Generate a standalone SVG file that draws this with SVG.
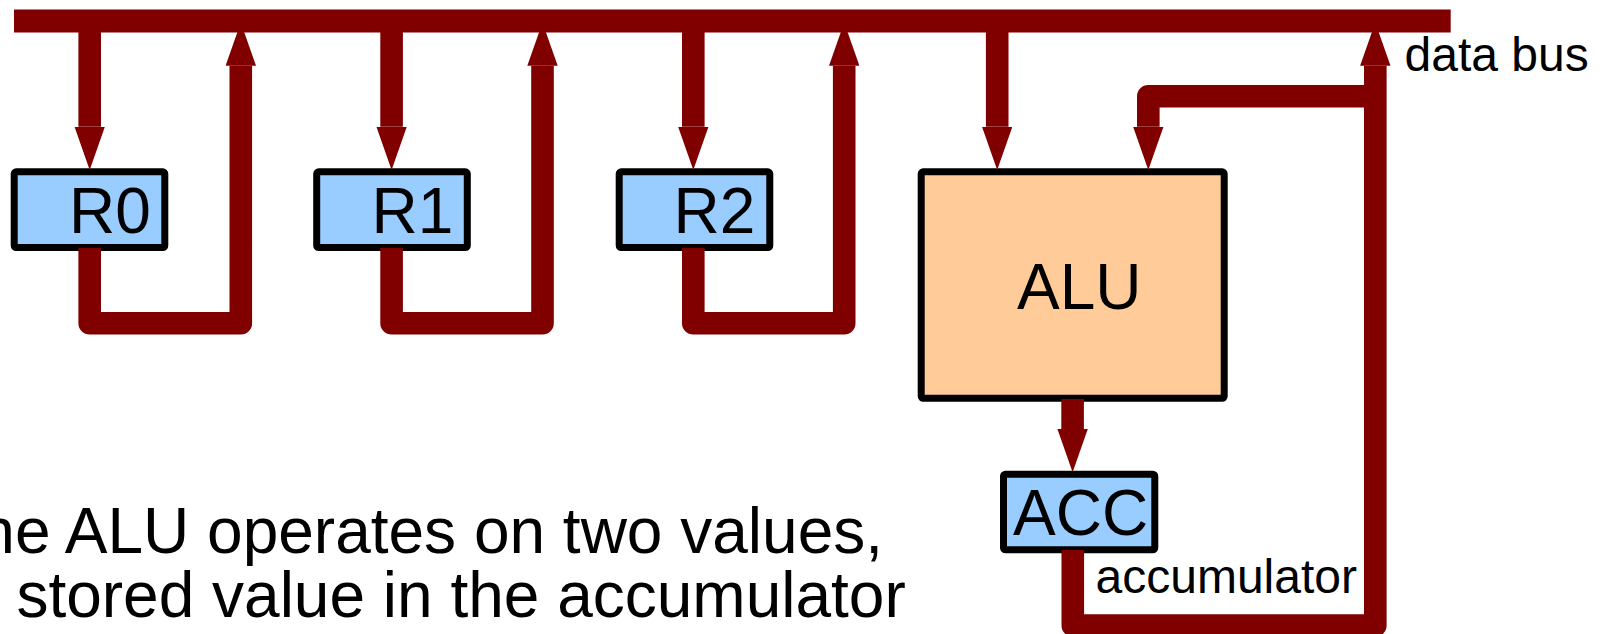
<svg xmlns="http://www.w3.org/2000/svg" width="1606" height="634" viewBox="0 0 1606 634">
<style>
.bus{fill:none;stroke:#800000;stroke-width:23;stroke-linecap:butt}
.wire{fill:none;stroke:#800000;stroke-width:22.6;stroke-linejoin:round;stroke-linecap:butt}
.reg{fill:#99ccff;stroke:#000;stroke-width:7}
.alu{fill:#ffcc99;stroke:#000;stroke-width:7}
.big{font-family:"Liberation Sans",Arial,sans-serif;font-size:64px;fill:#000}
.lbl{font-family:"Liberation Sans",Arial,sans-serif;font-size:48px;fill:#000}
</style>
<defs>
<marker id="ah" markerUnits="userSpaceOnUse" viewBox="0 -15.2 44 30.4" markerWidth="44" markerHeight="30.4" refX="0" refY="0" orient="auto">
<path d="M0,-15.2 L43.3,0 L0,15.2 Z" fill="#800000"/>
</marker>
</defs>
<rect width="1606" height="634" fill="#fff"/>
<g id="R0"><rect class="reg" x="14.2" y="171.8" width="150.6" height="75.7" rx="2"/><text class="big" x="69" y="232.7">R0</text></g>
<g id="R1"><rect class="reg" x="316.7" y="171.8" width="150.6" height="75.7" rx="2"/><text class="big" x="371.5" y="232.7">R1</text></g>
<g id="R2"><rect class="reg" x="619.2" y="171.8" width="150.6" height="75.7" rx="2"/><text class="big" x="673.5" y="232.7">R2</text></g>
<g id="ALU"><rect class="alu" x="921.2" y="171.8" width="303" height="226.5" rx="2"/><text class="big" x="1017" y="309.3">ALU</text></g>
<g id="ACC"><rect class="reg" x="1003.5" y="474.2" width="151.3" height="75.6" rx="2"/><text class="big" x="1013" y="535">ACC</text></g>
<g id="connectors">
<path class="bus" d="M14,21 H1450.7"/>
<path class="wire" d="M89.7,32 V126.7" marker-end="url(#ah)"/>
<path class="wire" d="M391.6,32 V126.7" marker-end="url(#ah)"/>
<path class="wire" d="M693.3,32 V126.7" marker-end="url(#ah)"/>
<path class="wire" d="M997.2,32 V126.7" marker-end="url(#ah)"/>
<path class="wire" d="M89.7,247.7 V323.3 H240.8 V65.7" marker-end="url(#ah)"/>
<path class="wire" d="M391.6,247.7 V323.3 H542.5 V65.7" marker-end="url(#ah)"/>
<path class="wire" d="M693.3,247.7 V323.3 H844.2 V65.7" marker-end="url(#ah)"/>
<path class="wire" d="M1072.6,399 V429" marker-end="url(#ah)"/>
<path class="wire" d="M1072.8,550 V625.5 H1375.3 V65.7" marker-end="url(#ah)"/>
<path class="wire" d="M1375.3,96.3 H1148.3 V126.7" marker-end="url(#ah)"/>
</g>
<text class="lbl" x="1404.5" y="71">data bus</text>
<text class="lbl" x="1095.5" y="593.3">accumulator</text>
<text class="big" x="-20.7" y="553.3">he ALU operates on two values,</text>
<text class="big" x="16.4" y="616.7">stored value in the accumulator</text>
</svg>
